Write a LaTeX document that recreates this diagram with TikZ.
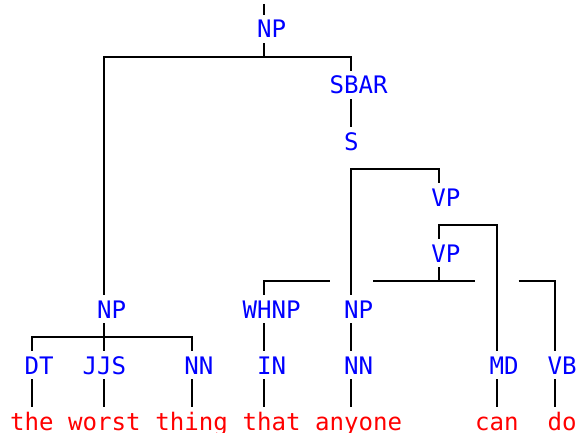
\documentclass[tikz,border=0pt]{standalone}
\usepackage{fontspec}
\newfontfamily\treefont{DejaVu Sans Mono}
\usetikzlibrary{calc}

\tikzset{
  cat/.style={font={\treefont\fontsize{24.1}{28}\selectfont}, text=blue,
    inner sep=0pt, text height=23pt, text depth=5pt, anchor=base},
  word/.style={cat, text=red},
  lead/.style={execute at begin node={\phantom{X}}},
  edge/.style={line width=2pt}
}

\begin{document}
\begin{tikzpicture}[x=1pt, y=1pt]
    \useasboundingbox (0,0) rectangle (577,432);

    \node[cat, lead] (np0) at (264.28,394) {NP};
    \node[cat, lead] (sbar) at (351.46,338) {SBAR};
    \node[cat] (s) at (351.46,282) {S};
    \node[cat, lead] (vp1) at (438.64,226) {VP};
    \node[cat, lead] (vp2) at (438.64,170) {VP};
    \node[cat, lead] (npl) at (104.45,114) {NP};
    \node[cat, lead] (whnp) at (264.28,114) {WHNP};
    \node[cat, lead] (npr) at (351.46,114) {NP};
    \node[cat, lead] (dt) at (31.80,58) {DT};
    \node[cat] (jjs) at (104.45,58) {JJS};
    \node[cat, lead] (nnl) at (191.63,58) {NN};
    \node[cat, lead] (in1) at (264.28,58) {IN};
    \node[cat, lead] (nnr) at (351.46,58) {NN};
    \node[cat, lead] (md) at (496.76,58) {MD};
    \node[cat, lead] (vb) at (554.88,58) {VB};

    \node[word] (the) at (31.80,2) {the};
    \node[word] (worst) at (104.45,2) {worst};
    \node[word] (thing) at (191.63,2) {thing};
    \node[word, lead] (that) at (264.28,2) {that};
    \node[word, lead] (anyone) at (351.46,2) {anyone};
    \node[word] (can) at (496.76,2) {can};
    \node[word, lead] (do) at (554.88,2) {do};

    \coordinate (top) at (264.28,428);
    \coordinate (cut1a) at (329.66,151);
    \coordinate (cut1b) at (373.25,151);
    \coordinate (cut2a) at (474.96,151);
    \coordinate (cut2b) at (518.55,151);

    % NP -> NP SBAR
    \draw[edge] (top) -- (np0.north);
    \draw[edge] (np0.south) -- ++(0,-14);
    \draw[edge] (npl.north) |- ($(np0.south)+(0,-14)$) -| (sbar.north);
    \draw[edge] (sbar.south) -- (s.north);

    % S -> NP VP
    \draw[edge] (npr.north) |- ($(s.south)+(0,-14)$) -| (vp1.north);

    % VP -> VP MD
    \draw[edge] (vp2.north) |- ($(vp1.south)+(0,-14)$) -| (md.north);

    % VP -> WHNP VB, crossing NP and MD
    \draw[edge] (vp2.south) -- ++(0,-14);
    \draw[edge] (whnp.north) |- (cut1a);
    \draw[edge] (cut1b) -- (cut2a);
    \draw[edge] (cut2b) -| (vb.north);

    % NP -> DT JJS NN
    \draw[edge] (npl.south) -- (jjs.north);
    \draw[edge] (dt.north) |- ($(npl.south)+(0,-14)$) -| (nnl.north);
    \draw[edge] (whnp.south) -- (in1.north);
    \draw[edge] (npr.south) -- (nnr.north);

    \draw[edge] (dt.south) -- (the.north);
    \draw[edge] (jjs.south) -- (worst.north);
    \draw[edge] (nnl.south) -- (thing.north);
    \draw[edge] (in1.south) -- (that.north);
    \draw[edge] (nnr.south) -- (anyone.north);
    \draw[edge] (md.south) -- (can.north);
    \draw[edge] (vb.south) -- (do.north);
\end{tikzpicture}
\end{document}
